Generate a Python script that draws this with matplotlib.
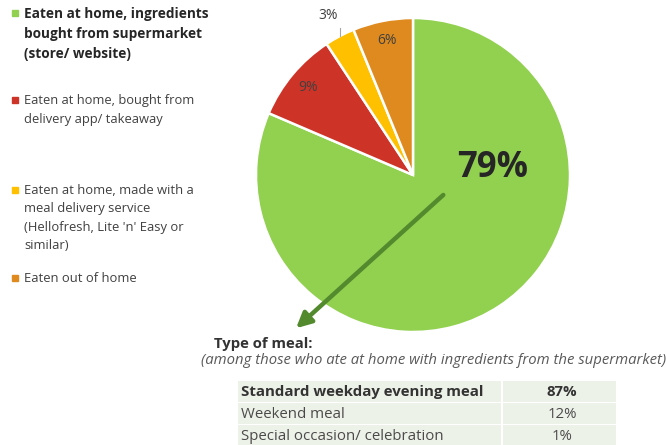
import numpy as np
import matplotlib
matplotlib.use("Agg")
import matplotlib.pyplot as plt

plt.rcParams['font.family'] = ['Open Sans', 'DejaVu Sans']

# Where the meal was eaten / sourced
categories = [
    "Eaten at home, ingredients\nbought from supermarket\n(store/ website)",
    "Eaten at home, bought from\ndelivery app/ takeaway",
    "Eaten at home, made with a\nmeal delivery service\n(Hellofresh, Lite 'n' Easy or\nsimilar)",
    "Eaten out of home",
]
shares = [79, 9, 3, 6]
colors = ["#92D050", "#CE3327", "#FFC000", "#DF8A1E"]

# Type of meal breakdown
meal_types = ["Standard weekday evening meal", "Weekend meal", "Special occasion/ celebration"]
meal_shares = [87, 12, 1]

W, H = 666, 445
fig = plt.figure(figsize=(W / 100, H / 100), dpi=100)

# Pixel-space overlay for free text
ov = fig.add_axes([0, 0, 1, 1])
ov.set_xlim(0, W)
ov.set_ylim(H, 0)
ov.axis("off")

# Pie axes
cx, cy, r = 413, 175, 157
pie_ax = fig.add_axes([(cx - r) / W, (H - cy - r) / H, 2 * r / W, 2 * r / H])
wedges, _ = pie_ax.pie(shares, colors=colors, startangle=90, counterclock=False,
                       radius=1, wedgeprops=dict(edgecolor="white", linewidth=1.8))
pie_ax.set_xlim(-1, 1)
pie_ax.set_ylim(-1, 1)
pie_ax.set_aspect("equal")
pie_ax.axis("off")

label_col = "#404040"
for i, (w, v) in enumerate(zip(wedges, shares)):
    mid = np.deg2rad((w.theta1 + w.theta2) / 2)
    if i == 0:
        pie_ax.text(0.51, 0.045, f"{v}%", ha="center", va="center", fontsize=25,
                    fontweight="bold", color="#262626")
    elif v < 5:
        pie_ax.text(1.16 * np.cos(mid), 1.15 * np.sin(mid), f"{v}%", ha="center",
                    va="center", fontsize=10, color=label_col)
        x0 = 1.0 * np.cos(mid)
        pie_ax.plot([x0, x0], [1.0 * np.sin(mid), 1.0 * np.sin(mid) + 0.05],
                    color="#A6A6A6", lw=0.8, clip_on=False)
    else:
        pie_ax.text(0.87 * np.cos(mid), 0.87 * np.sin(mid), f"{v}%", ha="center",
                    va="center", fontsize=10, color=label_col)

# Arrow pointing to the meal-type breakdown
pie_ax.annotate("", xy=(-0.745, -0.976), xytext=(0.193, -0.127),
                arrowprops=dict(arrowstyle="-|>,head_length=0.9,head_width=0.45",
                                color="#538A2E", lw=3.2, shrinkA=0, shrinkB=0),
                annotation_clip=False)

# Legend on the left
leg_y = [13, 100, 190, 278]
leg_size = [9.8, 9.3, 9.4, 9.4]
leg_spacing = [1.55, 1.6, 1.53, 1.5]
for i, (lab, c) in enumerate(zip(categories, colors)):
    ov.add_patch(plt.Rectangle((11.5, leg_y[i] - 3.2), 6, 6, color=c))
    bold = i == 0
    ov.text(24, leg_y[i] - 6, lab, ha="left", va="top",
            fontsize=leg_size[i], fontweight="bold" if bold else "normal",
            color="#262626" if bold else "#404040",
            linespacing=leg_spacing[i])

# Meal type heading
ov.text(214, 344, "Type of meal:", ha="left", va="center", fontsize=10.7,
        fontweight="bold", color="#333333")
ov.text(201, 360, "(among those who ate at home with ingredients from the supermarket)",
        ha="left", va="center", fontsize=10.7, style="italic", color="#595959")

# Meal type table
tbl_left, tbl_mid, tbl_right = 238, 502, 616
row_tops = [381, 403, 425]
row_h = 21
for j, (name, v) in enumerate(zip(meal_types, meal_shares)):
    y0 = row_tops[j]
    ov.add_patch(plt.Rectangle((tbl_left, y0), tbl_mid - tbl_left - 1, row_h,
                               color="#EDF2E8", lw=0))
    ov.add_patch(plt.Rectangle((tbl_mid + 1, y0), tbl_right - tbl_mid - 1, row_h,
                               color="#EDF2E8", lw=0))
    bold = j == 0
    ov.text(tbl_left + 3, y0 + row_h / 2 + 0.5, name, ha="left", va="center",
            fontsize=10.8, fontweight="bold" if bold else "normal",
            color="#333333" if bold else "#4A4A4A")
    ov.text((tbl_mid + tbl_right) / 2 + 3, y0 + row_h / 2 + 0.5, f"{v}%", ha="center",
            va="center", fontsize=10.8, fontweight="bold" if bold else "normal",
            color="#333333" if bold else "#4A4A4A")

fig.savefig("out.png", dpi=100, facecolor="white")
